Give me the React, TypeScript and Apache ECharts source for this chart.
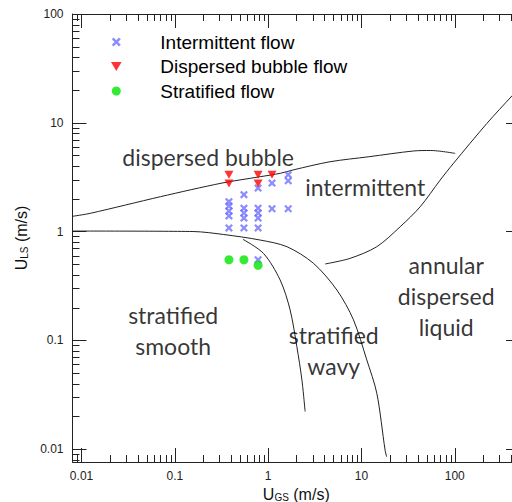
import React, { useEffect, useRef } from 'react';
import * as echarts from 'echarts';

// Axis ranges (log scales)
const X_MIN = 0.008;
const X_MAX = 500;
const Y_MIN = 0.0076;
const Y_MAX = 100;

// Experimental points [U_GS, U_LS]
const intermittentFlow = [
  [0.38, 1.88], [0.38, 1.72], [0.38, 1.54], [0.38, 1.39], [0.38, 1.08],
  [0.55, 2.18], [0.55, 1.64], [0.55, 1.48], [0.55, 1.33], [0.55, 1.08],
  [0.78, 2.51], [0.78, 1.64], [0.78, 1.48], [0.78, 1.33], [0.78, 1.08], [0.78, 0.55],
  [1.1, 2.79], [1.1, 1.62],
  [1.64, 3.33], [1.64, 2.93], [1.64, 1.62],
];
const dispersedBubbleFlow = [
  [0.38, 3.33], [0.38, 2.77], [0.78, 3.33], [0.78, 2.77], [1.1, 3.33],
];
const stratifiedFlow = [
  [0.38, 0.55], [0.55, 0.55], [0.78, 0.489],
];

// Transition boundaries [U_GS, U_LS]
const boundaryBubble = [
  [0.008, 1.38], [0.0124, 1.47], [0.07, 2.09], [0.32, 2.79], [0.82, 3.19],
  [1.35, 3.43], [1.89, 3.7], [4.6, 4.38], [12, 4.87], [36, 5.5], [55, 5.56], [101, 5.23],
];
const boundaryStratified = [
  [0.008, 1.01], [0.157, 1.0], [0.33, 0.94], [0.82, 0.835], [1.59, 0.725],
  [3.06, 0.51], [5.45, 0.29], [8.21, 0.154], [11.4, 0.066], [14.6, 0.0326],
  [17.9, 0.0098], [18.6, 0.0085],
];
const boundaryWavy = [
  [0.536, 0.848], [0.89, 0.63], [1.345, 0.358], [1.72, 0.19], [2.03, 0.0874],
  [2.3, 0.0432], [2.49, 0.0221],
];
const boundaryAnnular = [
  [4.08, 0.503], [7.57, 0.567], [14.6, 0.725], [26, 1.107], [42.6, 1.69],
  [69.7, 2.97], [96.9, 4.24], [221, 9.87], [409, 17.6], [500, 21],
];

// Region labels, anchored at data coordinates
const regionLabels = [
  { name: 'dispersed bubble', value: [0.2275, 4.84] },
  { name: 'intermittent', value: [10.96, 2.59] },
  { name: 'annular\ndispersed\nliquid', value: [80.9, 0.255] },
  { name: 'stratified\nsmooth', value: [0.0959, 0.123] },
  { name: 'stratified\nwavy', value: [5.04, 0.0806] },
];

const legendNames = ['Intermittent flow', 'Dispersed bubble flow', 'Stratified flow'];

// Log minor tick values (2..9 per decade)
const decades = [0.001, 0.01, 0.1, 1, 10, 100];
const multipliers = [2, 3, 4, 5, 6, 7, 8, 9];

const AXIS = '#222';
const CROSS = 'path://M0,2 L2,0 L5,3 L8,0 L10,2 L7,5 L10,8 L8,10 L5,7 L2,10 L0,8 L3,5 Z';
const TRIANGLE_DOWN = 'path://M0,0 L10,0 L5,8.5 Z';

function minorTicks(min: number, max: number): number[] {
  const out: number[] = [];
  decades.forEach((d) => multipliers.forEach((m) => {
    const v = +(d * m).toPrecision(6);
    if (v > min && v < max) out.push(v);
  }));
  return out;
}

function minorTickSeries(values: number[], dir: 'x' | 'y') {
  return {
    type: 'custom',
    silent: true,
    z: 3,
    data: values.map((v) => (dir === 'x' ? [v, 1] : [1, v])),
    renderItem: (params: any, api: any) => {
      const cs = params.coordSys;
      const p = api.coord([api.value(0), api.value(1)]);
      const L = 7;
      const st = { stroke: AXIS, lineWidth: 1 };
      if (dir === 'x') {
        const x = Math.round(p[0]) + 0.5;
        return {
          type: 'group',
          children: [
            { type: 'line', shape: { x1: x, y1: cs.y + cs.height, x2: x, y2: cs.y + cs.height - L }, style: st },
            { type: 'line', shape: { x1: x, y1: cs.y, x2: x, y2: cs.y + L }, style: st },
          ],
        };
      }
      const y = Math.round(p[1]) + 0.5;
      return {
        type: 'group',
        children: [
          { type: 'line', shape: { x1: cs.x, y1: y, x2: cs.x + L, y2: y }, style: st },
          { type: 'line', shape: { x1: cs.x + cs.width, y1: y, x2: cs.x + cs.width - L, y2: y }, style: st },
        ],
      };
    },
  };
}

const axisNameRich = {
  u: { fontSize: 16, lineHeight: 16, fontFamily: 'Liberation Sans', color: '#111', verticalAlign: 'top' },
  s: { fontSize: 10, lineHeight: 8, fontFamily: 'Liberation Sans', color: '#111', verticalAlign: 'bottom' },
};

function baseAxis(min: number, max: number) {
  return {
    type: 'log',
    logBase: 10,
    min,
    max,
    splitLine: { show: false },
    axisLine: { show: true, lineStyle: { color: AXIS, width: 1 } },
    axisTick: { show: true, inside: true, length: 14, lineStyle: { color: AXIS, width: 1 } },
  };
}

export default function App() {
  const ref = useRef<HTMLDivElement>(null);

  useEffect(() => {
    if (!ref.current) return;
    const chart = echarts.init(ref.current, undefined, { renderer: 'svg' });

    const lineSeries = (data: number[][]) => ({
      type: 'line',
      data,
      symbol: 'none',
      showSymbol: false,
      smooth: 0.3,
      silent: true,
      z: 2,
      lineStyle: { color: '#222', width: 1 },
    });

    const option: any = {
      animation: false,
      backgroundColor: '#fff',
      grid: { left: 72.5, top: 14, width: 447.5, height: 448, containLabel: false, outerBoundsMode: 'none' },
      legend: {
        data: legendNames,
        orient: 'vertical',
        left: 111,
        top: 32,
        padding: 0,
        itemWidth: 78,
        itemHeight: 9,
        itemGap: 4.5,
        selectedMode: false,
        textStyle: { fontSize: 19, lineHeight: 20, fontFamily: 'Liberation Sans', color: '#000' },
      },
      xAxis: [
        {
          ...baseAxis(X_MIN, X_MAX),
          position: 'bottom',
          axisLabel: { fontSize: 12, color: '#222', fontFamily: 'Liberation Sans', margin: 8, showMinLabel: false, showMaxLabel: false },
          name: '{u|U}{s|GS}{u| (m/s)}',
          nameLocation: 'middle',
          nameGap: 18,
          nameTextStyle: { rich: axisNameRich },
        },
        {
          ...baseAxis(X_MIN, X_MAX),
          position: 'top',
          axisLabel: { show: false },
        },
      ],
      yAxis: [
        {
          ...baseAxis(Y_MIN, Y_MAX),
          position: 'left',
          axisLabel: { fontSize: 12, color: '#222', fontFamily: 'Liberation Sans', margin: 9, showMinLabel: false, showMaxLabel: true },
          name: '{u|U}{s|LS}{u| (m/s)}',
          nameLocation: 'middle',
          nameRotate: 90,
          nameGap: 40,
          nameTextStyle: { rich: axisNameRich },
        },
        {
          ...baseAxis(Y_MIN, Y_MAX),
          position: 'right',
          axisLabel: { show: false },
        },
      ],
      series: [
        minorTickSeries(minorTicks(X_MIN, X_MAX), 'x'),
        minorTickSeries(minorTicks(Y_MIN, Y_MAX), 'y'),
        lineSeries(boundaryBubble),
        lineSeries(boundaryStratified),
        lineSeries(boundaryWavy),
        lineSeries(boundaryAnnular),
        {
          type: 'scatter',
          name: 'regions',
          data: regionLabels,
          symbolSize: 1,
          silent: true,
          itemStyle: { color: 'transparent' },
          label: {
            show: true,
            position: 'inside',
            formatter: '{b}',
            fontSize: 23,
            lineHeight: 31,
            fontFamily: 'Lato',
            color: '#000',
            align: 'center',
          },
          z: 4,
        },
        {
          type: 'scatter',
          name: legendNames[0],
          data: intermittentFlow,
          symbol: CROSS,
          symbolSize: 8,
          itemStyle: { color: '#7070ff' },
          z: 5,
        },
        {
          type: 'scatter',
          name: legendNames[1],
          data: dispersedBubbleFlow,
          symbol: TRIANGLE_DOWN,
          symbolSize: [9, 8],
          itemStyle: { color: '#ff0000' },
          z: 6,
        },
        {
          type: 'scatter',
          name: legendNames[2],
          data: stratifiedFlow,
          symbol: 'circle',
          symbolSize: 9,
          itemStyle: { color: '#00e600' },
          z: 7,
        },
      ],
    };

    chart.setOption(option);
    return () => chart.dispose();
  }, []);

  return (
    <div
      ref={ref}
      style={{ position: 'fixed', left: 0, top: 0, width: 512, height: 502, overflow: 'hidden', background: '#fff' }}
    />
  );
}
